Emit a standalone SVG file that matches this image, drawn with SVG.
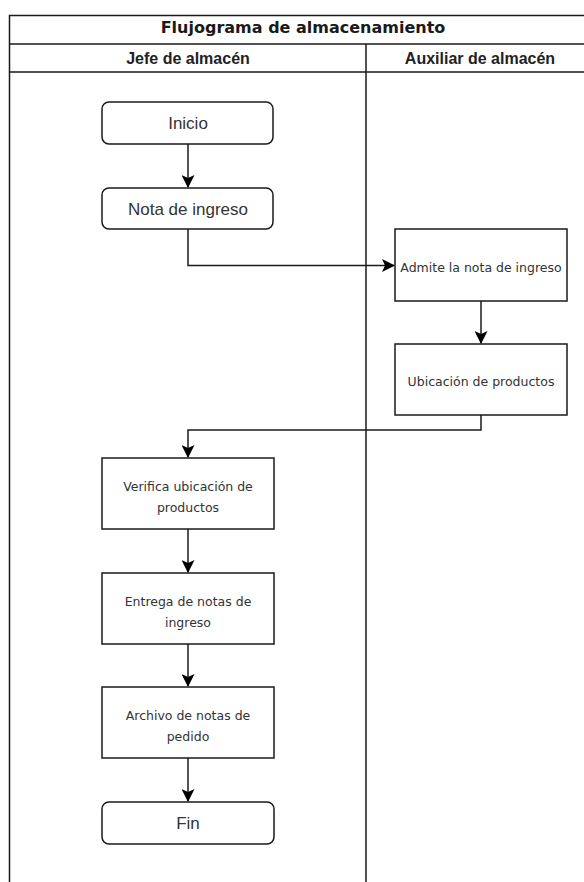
<svg xmlns="http://www.w3.org/2000/svg" width="584" height="882" viewBox="0 0 584 882">
<defs>
<style>
.lane{fill:none;stroke:#1a1a1a;stroke-width:1.5}
.box{fill:#fff;stroke:#1a1a1a;stroke-width:1.5}
.edge{fill:none;stroke:#1a1a1a;stroke-width:1.5}
.t1{font-family:"DejaVu Sans",Verdana,sans-serif;font-weight:bold;font-size:16px;fill:#1a1a1a;text-anchor:middle}
.th{font-family:"Liberation Sans",Arial,sans-serif;font-weight:bold;font-size:16px;fill:#222;text-anchor:middle}
.tb{font-family:"Liberation Sans",Arial,sans-serif;font-size:17px;fill:#333;text-anchor:middle}
.ts{font-family:"DejaVu Sans",Verdana,sans-serif;font-size:12.5px;fill:#333;text-anchor:middle}
</style>
<marker id="arr" markerWidth="13" markerHeight="13" viewBox="0 0 13 13" refX="12" refY="6.5" orient="auto" markerUnits="userSpaceOnUse">
<path d="M0,0 L13,6.5 L0,13 L3,6.5 z" fill="#000"/>
</marker>
</defs>
<rect width="584" height="882" fill="#fff"/>
<g id="pool">
<path class="lane" d="M9.5,882 V15.5 H598"/>
<path class="lane" d="M9.5,44 H598 M9.5,72 H598 M366,44 V882"/>
<text class="t1" x="303" y="33">Flujograma de almacenamiento</text>
<text class="th" x="188" y="64">Jefe de almacén</text>
<text class="th" x="480" y="64">Auxiliar de almacén</text>
</g>
<g id="edges">
<path class="edge" d="M188,144 V187" marker-end="url(#arr)"/>
<path class="edge" d="M188,229 V265.5 H394" marker-end="url(#arr)"/>
<path class="edge" d="M481,301 V343" marker-end="url(#arr)"/>
<path class="edge" d="M481,415 V430 H188 V457" marker-end="url(#arr)"/>
<path class="edge" d="M188,529 V572" marker-end="url(#arr)"/>
<path class="edge" d="M188,644 V686" marker-end="url(#arr)"/>
<path class="edge" d="M188,758 V801" marker-end="url(#arr)"/>
</g>
<g id="inicio">
<rect class="box" x="102" y="102" width="171" height="42" rx="7"/>
<text class="tb" x="188" y="129">Inicio</text>
</g>
<g id="nota">
<rect class="box" x="102" y="188" width="171" height="41" rx="7"/>
<text class="tb" x="188" y="214.5">Nota de ingreso</text>
</g>
<g id="admite">
<rect class="box" x="395" y="229" width="172" height="72"/>
<text class="ts" x="481" y="272">Admite la nota de ingreso</text>
</g>
<g id="ubicacion">
<rect class="box" x="395" y="344" width="172" height="71"/>
<text class="ts" x="481" y="386">Ubicación de productos</text>
</g>
<g id="verifica">
<rect class="box" x="102" y="458" width="172" height="71"/>
<text class="ts" x="188" y="491">Verifica ubicación de</text>
<text class="ts" x="188" y="512">productos</text>
</g>
<g id="entrega">
<rect class="box" x="102" y="573" width="172" height="71"/>
<text class="ts" x="188" y="606">Entrega de notas de</text>
<text class="ts" x="188" y="627">ingreso</text>
</g>
<g id="archivo">
<rect class="box" x="102" y="687" width="172" height="71"/>
<text class="ts" x="188" y="720">Archivo de notas de</text>
<text class="ts" x="188" y="741">pedido</text>
</g>
<g id="fin">
<rect class="box" x="102" y="802" width="172" height="42" rx="7"/>
<text class="tb" x="188" y="829">Fin</text>
</g>
</svg>
